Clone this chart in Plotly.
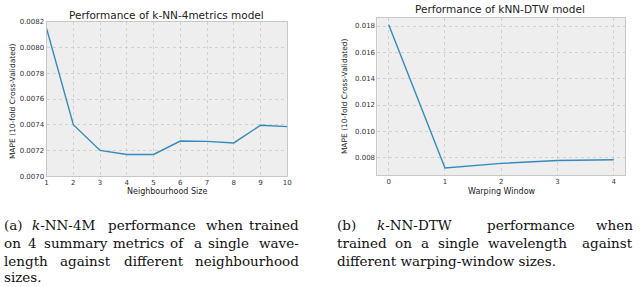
import plotly.graph_objects as go

# ---- data ----
neigh_sizes = [1, 2, 3, 4, 5, 6, 7, 8, 9, 10]
mape_4m = [0.00815, 0.00740, 0.00720, 0.007168, 0.007168, 0.007273, 0.007270, 0.007258, 0.007396, 0.007385]
warp_windows = [0, 1, 2, 3, 4]
mape_dtw = [0.01810, 0.00722, 0.00757, 0.00779, 0.00785]

left_yticks = [0.0070, 0.0072, 0.0074, 0.0076, 0.0078, 0.0080, 0.0082]
right_yticks = [0.008, 0.010, 0.012, 0.014, 0.016, 0.018]

W, H = 640, 287
BG = "#eeeeee"
LINE = "#348ABD"
GRID = "#c4c4c4"
EDGE = "#c8c8c8"
SANS = "DejaVu Sans"
SERIF = "DejaVu Serif"

fig = go.Figure()
fig.add_trace(go.Scatter(x=neigh_sizes, y=mape_4m, mode="lines",
                         line=dict(color=LINE, width=1.4), xaxis="x", yaxis="y", showlegend=False))
fig.add_trace(go.Scatter(x=warp_windows, y=mape_dtw, mode="lines",
                         line=dict(color=LINE, width=1.4), xaxis="x2", yaxis="y2", showlegend=False))

def px_x(p):
    return p / W

def px_y(p):
    return 1 - p / H

axis_common = dict(showline=True, linecolor=EDGE, linewidth=1, mirror=True,
                   showgrid=True, gridcolor=GRID, griddash="dot", gridwidth=0.7,
                   zeroline=False, ticks="", tickfont=dict(family=SANS, size=7, color="#333333"))

fig.update_layout(
    width=W, height=H,
    margin=dict(l=0, r=0, t=0, b=0),
    paper_bgcolor="white",
    plot_bgcolor=BG,
    hovermode=False,
    xaxis=dict(domain=[px_x(45), px_x(288)], range=[1, 10], tickvals=neigh_sizes,
               anchor="y", **axis_common),
    yaxis=dict(domain=[px_y(177), px_y(18.5)], range=[0.0070, 0.0082], tickvals=left_yticks,
               tickformat=".4f", anchor="x", **axis_common),
    xaxis2=dict(domain=[px_x(379), px_x(629)], range=[-0.2, 4.2], tickvals=warp_windows,
                anchor="y2", **axis_common),
    yaxis2=dict(domain=[px_y(176), px_y(14)], range=[0.00668, 0.01864], tickvals=right_yticks,
                tickformat=".3f", anchor="x2", **axis_common),
)

ann = []

def label(text, x, y, size, family=SANS, angle=0, xanchor="center", color="#222222"):
    ann.append(dict(text=text, x=px_x(x), y=px_y(y), xref="paper", yref="paper",
                    showarrow=False, xanchor=xanchor, yanchor="middle", textangle=angle,
                    font=dict(family=family, size=size, color=color)))

# titles
label("Performance of k-NN-4metrics model", 166.5, 11.5, 10.5)
label("Performance of kNN-DTW model", 503, 5.5, 10.5)
# axis titles
label("Neighbourhood Size", 166.5, 193, 8)
label("Warping Window", 505, 193, 8)
label("MAPE (10-fold Cross-Validated)", 10, 100, 7.5, angle=-90)
label("MAPE (10-fold Cross-Validated)", 346, 95, 7.5, angle=-90)

# captions (justified: words at their left edges, last word flush right)
cap_size = 13.5
def words(items, yc, right=None):
    for i, (t, x) in enumerate(items):
        if right is not None and i == len(items) - 1:
            label(t, right, yc, cap_size, family=SERIF, xanchor="right", color="#111111")
        else:
            label(t, x, yc, cap_size, family=SERIF, xanchor="left", color="#111111")

L_END, R_END = 302, 639
words([("(a)", 0), ("<i>k</i>-NN-4M", 28), ("performance", 105), ("when", 204), ("trained", 252)],
      227, L_END)
words([("on", 0), ("4", 24), ("summary", 40), ("metrics", 110), ("of", 168), ("a", 191.5),
       ("single", 206), ("wave-", 262)], 245.5, L_END)
words([("length", 0), ("against", 57), ("different", 121), ("neighbourhood", 203)], 264, L_END)
words([("sizes.", 0)], 281)

words([("(b)", 336), ("<i>k</i>-NN-DTW", 377), ("performance", 488), ("when", 601)], 227, R_END)
words([("trained", 336), ("on", 395), ("a", 421), ("single", 438), ("wavelength", 489),
       ("against", 589)], 245.5, R_END)
words([("different warping-window sizes.", 336)], 264)

fig.update_layout(annotations=ann)
fig.write_html("out.html", config={"displayModeBar": False, "staticPlot": True},
               post_script="document.body.style.margin='0';document.body.style.overflow='hidden';")
